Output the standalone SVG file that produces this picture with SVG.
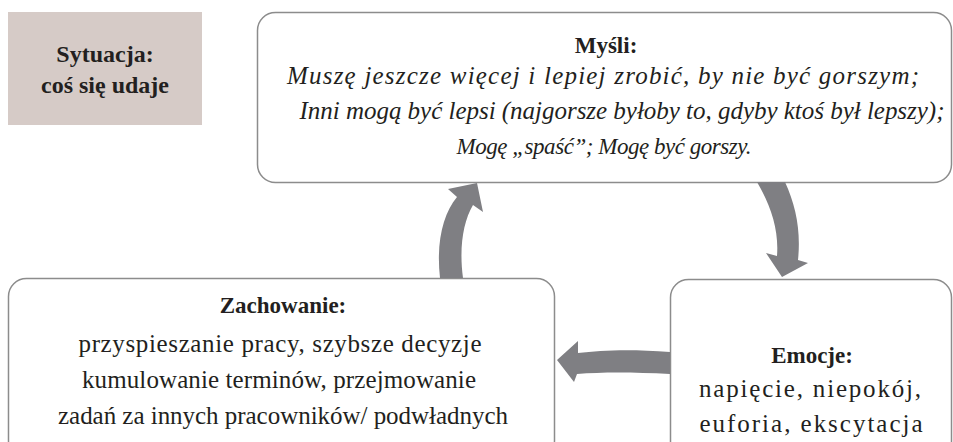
<svg xmlns="http://www.w3.org/2000/svg" width="953" height="442" viewBox="0 0 953 442">
  <style>
    .box { fill: #ffffff; stroke: #8c8c8c; stroke-width: 1.5; }
    .sit { fill: #d6cbc7; }
    .arrow { fill: #7f7f83; }
  </style>

  <g id="sytuacja">
    <rect class="sit" x="8" y="12" width="194" height="113"/>
    <g font-family="Liberation Serif" font-weight="bold" font-size="24" fill="#231f20" text-anchor="middle">
      <text x="105" y="62">Sytuacja:</text>
      <text x="105" y="93">coś się udaje</text>
    </g>
  </g>

  <g id="mysli">
    <rect class="box" x="257.5" y="12.5" width="694" height="170" rx="18"/>
    <g font-family="Liberation Serif" fill="#231f20" text-anchor="middle">
      <text x="606" y="53" font-weight="bold" font-size="23">Myśli:</text>
      <g font-style="italic" font-size="25">
        <text x="603" y="84" textLength="632">Muszę jeszcze więcej i lepiej zrobić, by nie być gorszym;</text>
        <text x="622" y="119" textLength="645">Inni mogą być lepsi (najgorsze byłoby to, gdyby ktoś był lepszy);</text>
        <text x="604" y="154" font-size="23" textLength="295">Mogę „spaść”; Mogę być gorszy.</text>
      </g>
    </g>
  </g>

  <g id="zachowanie">
    <rect class="box" x="8.5" y="278.5" width="546" height="180" rx="18"/>
    <g font-family="Liberation Serif" fill="#231f20" text-anchor="middle">
      <text x="283" y="313" font-weight="bold" font-size="23">Zachowanie:</text>
      <g font-size="25">
        <text x="280" y="352" textLength="403">przyspieszanie pracy, szybsze decyzje</text>
        <text x="279" y="388" textLength="394">kumulowanie terminów, przejmowanie</text>
        <text x="283" y="424" textLength="450">zadań za innych pracowników/ podwładnych</text>
      </g>
    </g>
  </g>

  <g id="emocje">
    <rect class="box" x="670.5" y="279.5" width="281" height="180" rx="18"/>
    <g font-family="Liberation Serif" fill="#231f20" text-anchor="middle">
      <text x="812" y="363" font-weight="bold" font-size="23">Emocje:</text>
      <g font-size="25">
        <text x="810" y="397" textLength="222">napięcie, niepokój,</text>
        <text x="811" y="432" textLength="223">euforia, ekscytacja</text>
      </g>
    </g>
  </g>

  <g id="connectors">
    <!-- Zachowanie -> Myśli -->
    <path class="arrow" d="M440,278 C436,242 443,214 457,197 L448,189 L477,183 L483,212 L473,205 C463,222 459,248 463,278 Z"/>
    <!-- Myśli -> Emocje -->
    <path class="arrow" d="M757,182 C771,206 779,230 777,256 L766,253 L782,277 L808,263 L798,260 C801,231 796,206 785,182 Z"/>
    <!-- Emocje -> Zachowanie -->
    <path class="arrow" d="M670,352 C632,349 602,350 578,353 L578,341 L557,360 L574,382 L577,374 C602,372 632,372 670,374 Z"/>
  </g>
</svg>
